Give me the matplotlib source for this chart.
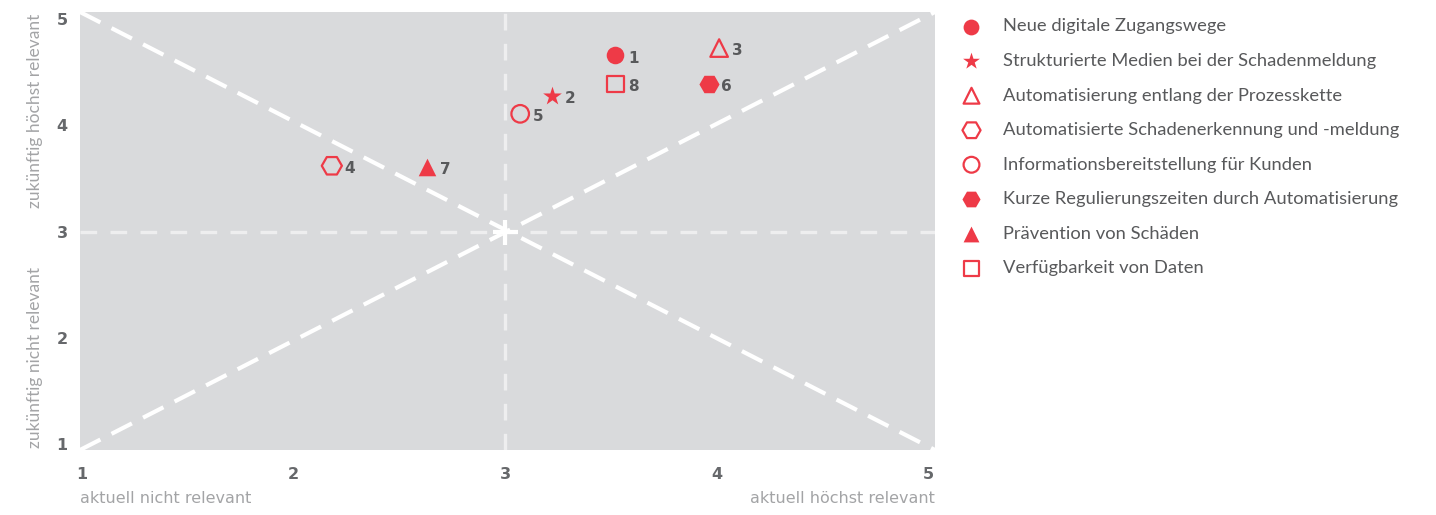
import matplotlib
matplotlib.use("Agg")
from matplotlib import pyplot as plt

# values
labels = ["Neue digitale Zugangswege",
          "Strukturierte Medien bei der Schadenmeldung",
          "Automatisierung entlang der Prozesskette",
          "Automatisierte Schadenerkennung und -meldung",
          "Informationsbereitstellung für Kunden",
          "Kurze Regulierungszeiten durch Automatisierung",
          "Prävention von Schäden",
          "Verfügbarkeit von Daten"]
numbers = ["1", "2", "3", "4", "5", "6", "7", "8"]
aktuell = [3.52, 3.22, 4.01, 2.18, 3.07, 3.96, 2.63, 3.52]
zukuenftig = [4.66, 4.28, 4.73, 3.62, 4.11, 4.39, 3.61, 4.39]
markers = ["o", "*", "^", "H", "o", "H", "^", "s"]
filled = [True, True, False, False, False, True, True, False]
sizes = [160, 200, 160, 210, 160, 210, 160, 140]
ticks = [1, 2, 3, 4, 5]

RED = "#ee3a47"
BG = "#d9dadc"
TICKGREY = "#66686b"
LABELGREY = "#a3a4a6"
TEXTGREY = "#58595b"

fig = plt.figure(figsize=(14.36, 5.15), dpi=100)
ax = fig.add_axes([80 / 1436, 65 / 515, 855 / 1436, 438 / 515])
ax.set_facecolor(BG)
ax.set_xlim(0.99, 5.03)
ax.set_ylim(0.94, 5.07)
for s in ax.spines.values():
    s.set_visible(False)

# guide lines
ax.plot([0, 1], [1, 0], transform=ax.transAxes, color="white", lw=3,
        dashes=(5.5, 3), zorder=1)
ax.plot([0, 1], [0, 1], transform=ax.transAxes, color="white", lw=3,
        dashes=(5.5, 3), zorder=1)
ax.axhline(3, color="#eeeeef", lw=2.4, dashes=(5, 4), zorder=1)
ax.axvline(3, color="#eeeeef", lw=2.4, dashes=(5, 4), zorder=1)
ax.plot([3], [3], marker="+", color="white", markersize=18, mew=3, zorder=2)

handles = []
for i in range(len(labels)):
    if filled[i]:
        h = ax.scatter(aktuell[i], zukuenftig[i], marker=markers[i], s=sizes[i],
                       color=RED, linewidths=0, zorder=3, label=labels[i])
    else:
        h = ax.scatter(aktuell[i], zukuenftig[i], marker=markers[i], s=sizes[i],
                       facecolors="none", edgecolors=RED, linewidths=1.6,
                       zorder=3, label=labels[i])
    handles.append(h)
    ax.annotate(numbers[i], (aktuell[i], zukuenftig[i]), xytext=(9, -2),
                textcoords="offset points", ha="left", va="center",
                fontsize=11, fontweight="bold", color=TEXTGREY,
                family="DejaVu Sans")

ax.set_xticks(ticks)
ax.set_yticks(ticks)
ax.set_xticklabels([str(t) for t in ticks], fontsize=11.5, fontweight="bold",
                   color=TICKGREY)
ax.set_yticklabels([str(t) for t in ticks], fontsize=11.5, fontweight="bold",
                   color=TICKGREY)
ax.tick_params(length=0, pad=12)
ax.tick_params(axis="y", pad=9)

fig.text(80 / 1436, 12 / 515, "aktuell nicht relevant", ha="left", va="baseline",
         fontsize=11.5, color=LABELGREY)
fig.text(935 / 1436, 12 / 515, "aktuell höchst relevant", ha="right", va="baseline",
         fontsize=11.5, color=LABELGREY)
fig.text(35 / 1436, 1 - 111 / 515, "zukünftig höchst relevant", rotation=90,
         ha="center", va="center", fontsize=12.5, color=LABELGREY, family="Lato")
fig.text(35 / 1436, 1 - 357 / 515, "zukünftig nicht relevant", rotation=90,
         ha="center", va="center", fontsize=12.5, color=LABELGREY, family="Lato")

leg = fig.legend(handles=handles, loc="upper left",
                 bbox_to_anchor=(944 / 1436, 1 - 2 / 515), frameon=False,
                 labelspacing=1.01, handletextpad=1.1, handlelength=1.2,
                 markerscale=0.9, prop={"family": "Lato", "size": 13.2})
for t in leg.get_texts():
    t.set_color(TEXTGREY)

fig.savefig("out.png", dpi=100)
